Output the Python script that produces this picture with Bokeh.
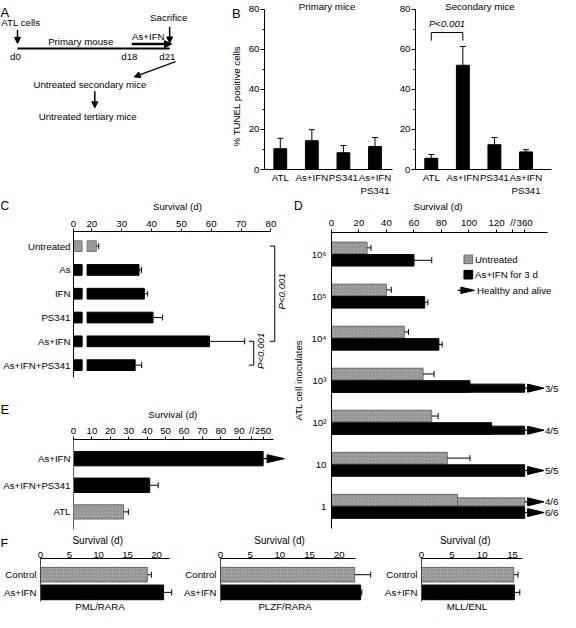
import math
from bokeh.plotting import figure
from bokeh.models import (Range1d, FixedTicker, Label, Arrow, NormalHead, Whisker,
                          TeeHead, ColumnDataSource, GridBox)
from bokeh.embed import file_html
from bokeh.resources import INLINE
from bokeh.core.properties import value

# ------------------------------------------------------------------ data
# Panel A (schematic)
a_texts = ["ATL cells", "Primary mouse", "As+IFN", "Sacrifice", "d0", "d18", "d21",
           "Untreated secondary mice", "Untreated tertiary mice"]

# Panel B: % TUNEL positive cells
b_titles = ["Primary mice", "Secondary mice"]
b_ylabel = "% TUNEL positive cells"
b_categories = ["ATL", "As+IFN", "PS341", "As+IFN\nPS341"]
b_primary = [10.4, 14.4, 8.4, 11.5]
b_primary_err = [5.2, 5.5, 3.6, 4.5]
b_secondary = [5.6, 52.1, 12.4, 8.8]
b_secondary_err = [1.9, 9.4, 3.6, 1.1]
b_yticks = [0, 20, 40, 60, 80]
b_yminor = [10, 30, 50, 70]
b_bracket = ("ATL", "As+IFN")
p_text = "P<0.001"
surv_label = "Survival (d)"

# Panel C: survival (d)
c_categories = ["Untreated", "As", "IFN", "PS341", "As+IFN", "As+IFN+PS341"]
c_survival = [21.5, 35.8, 37.6, 40.5, 59.4, 34.5]
c_err = [0.8, 0.8, 1.1, 3.2, 11.8, 2.2]
c_ticks = [0, 20, 30, 40, 50, 60, 70, 80]
c_brackets = [("Untreated", "As+IFN"), ("As+IFN", "As+IFN+PS341")]

# Panel D: survival (d) vs ATL cell inoculates
d_ylabel = "ATL cell inoculates"
d_inoculates = ["10\u2076", "10\u2075", "10\u2074", "10\u00b3", "10\u00b2", "10", "1"]
d_untreated = [25.9, 40.0, 52.9, 66.6, 72.9, 84.2, 91.7]
d_untreated_err = [2.8, 3.5, 3.1, 8.0, 4.7, 16.5, 0]
d_untreated_alive = ["", "", "", "", "", "", "4/6"]
d_treated = [60.0, 67.8, 78.1, 100.7, 116.5, 360, 360]
d_treated_err = [12.9, 2.3, 2.4, 0, 0, 0, 0]
d_treated_alive = ["", "", "", "3/5", "4/5", "5/5", "6/6"]
d_ticks = [0, 20, 40, 60, 80, 100, 120, 360]
d_alive_day = 360
d_legend = ["Untreated", "As+IFN for 3 d", "Healthy and alive"]

# Panel E
e_categories = ["As+IFN", "As+IFN+PS341", "ATL"]
e_survival = [250, 41.4, 27.2]
e_err = [0, 4.6, 2.6]
e_alive = [True, False, False]
e_ticks = [0, 10, 20, 30, 40, 50, 60, 70, 80, 90, 250]

# Panel F
f_models = ["PML/RARA", "PLZF/RARA", "MLL/ENL"]
f_categories = ["Control", "As+IFN"]
f_control = [18.4, 22.6, 15.2]
f_control_err = [0.7, 2.7, 0.7]
f_treated = [21.2, 23.6, 15.3]
f_treated_err = [1.4, 0.2, 0.9]
f_ticks = [[0, 5, 10, 15, 20], [0, 5, 10, 15, 20], [0, 5, 10, 15]]
f_axis_end = [22.2, 22.67, 16.6]

# ------------------------------------------------------------------ styling / layout
FONT = "Liberation Sans"
FS = "9.7px"
FL = "13px"
W, H_ = 560, 612
SX = W / 576
SY = H_ / 628


def PX(v):
    return int(round(v * SX))


def PY(v):
    return int(round(v * SY))


def no_align(p):
    try:
        p.frame_align = False
    except Exception:
        pass


def mklabel(x, y, text, size=FS, align="center", baseline="middle", angle=0, style="normal"):
    return Label(x=x, y=y, text=text, text_font=FONT, text_font_size=size, text_align=align,
                 text_baseline=baseline, angle=angle, text_font_style=style, text_color="black")


class TextFig:
    """axis-less figure in reference-pixel coordinates, for captions and the schematic"""

    def __init__(self, box):
        self.l, self.t, self.r, self.b = box
        l, t, r, b = box
        self.p = figure(width=PX(r) - PX(l), height=PY(b) - PY(t), x_range=Range1d(l, r),
                        y_range=Range1d(start=b, end=t), x_axis_location=None,
                        y_axis_location=None, output_backend="svg", toolbar_location=None,
                        min_border_left=0, min_border_right=0, min_border_top=0,
                        min_border_bottom=0, outline_line_color=None,
                        background_fill_color=None, border_fill_color=None)
        self.p.grid.visible = False
        no_align(self.p)

    def text(self, x, y, text, **kw):
        self.p.add_layout(mklabel(x, y, text, **kw))


class Panel:
    def __init__(self, box, frame, xr, yr, xloc="below"):
        self.l, self.t, self.r, self.b = box
        l, t, r, b = box
        self.fl, self.ft, self.fr, self.fb = frame
        self.xr, self.yr = xr, yr
        self.p = figure(width=PX(r) - PX(l), height=PY(b) - PY(t), output_backend="svg",
                        toolbar_location=None,
                        x_range=Range1d(xr[0], xr[1]), y_range=Range1d(start=yr[1], end=yr[0]),
                        min_border_left=PX(self.fl) - PX(l), min_border_right=PX(r) - PX(self.fr),
                        min_border_top=PY(self.ft) - PY(t), min_border_bottom=PY(b) - PY(self.fb),
                        outline_line_color=None, background_fill_color=None,
                        border_fill_color=None, x_axis_location=xloc, y_axis_location="left")
        self.p.grid.visible = False
        no_align(self.p)

    def X(self, px):
        return self.xr[0] + (px - self.fl) * (self.xr[1] - self.xr[0]) / (self.fr - self.fl)

    def Y(self, py):
        return self.yr[0] + (py - self.ft) * (self.yr[1] - self.yr[0]) / (self.fb - self.ft)

    def dx(self, n):
        return n * (self.xr[1] - self.xr[0]) / (self.fr - self.fl)

    def dy(self, n):
        return n * abs(self.yr[1] - self.yr[0]) / (self.fb - self.ft)

    def label(self, x, y, text, **kw):
        self.p.add_layout(mklabel(x, y, text, **kw))


def style_axis(ax, ticks, labels, tick_out=0, standoff=3, minor=None, bounds=None,
               size=FS, color="black"):
    ax.ticker = FixedTicker(ticks=list(ticks), minor_ticks=list(minor or []))
    ax.major_label_overrides = {t: l for t, l in zip(ticks, labels)}
    ax.major_tick_out = tick_out
    ax.major_tick_in = 0
    ax.minor_tick_out = 2 if minor else 0
    ax.minor_tick_in = 0
    ax.major_label_standoff = standoff
    ax.major_label_text_font = FONT
    ax.major_label_text_font_size = size
    ax.major_label_text_color = "black"
    ax.axis_line_color = color
    ax.major_tick_line_color = color
    ax.minor_tick_line_color = color
    if bounds is not None:
        ax.bounds = bounds


def whisk(p, base, lower, upper, dim):
    keep = [i for i in range(len(base)) if upper[i] > lower[i]]
    src = ColumnDataSource(dict(base=[base[i] for i in keep], lower=[lower[i] for i in keep],
                                upper=[upper[i] for i in keep]))
    p.add_layout(Whisker(source=src, base="base", lower="lower", upper="upper",
                         dimension=dim, lower_head=None,
                         upper_head=TeeHead(size=6, line_color="black", line_width=1),
                         line_color="black", line_width=1, level="glyph"))


def hatched():
    return dict(fill_color="#b4b4b4", hatch_pattern="/", hatch_color="#6a6a6a",
                hatch_scale=3.5, hatch_weight=0.7, line_color="#555555", line_width=0.8)


BLACK = dict(fill_color="black", line_color="black")


def arrowhead(panel, x_end, y, gap, length, half, line_to):
    x0 = x_end + panel.dx(gap)
    panel.p.line([x_end, x_end + panel.dx(line_to)], [y, y], color="black", line_width=1.2)
    panel.p.patch([x0, x0 + panel.dx(length), x0],
                  [y - panel.dy(half), y, y + panel.dy(half)], color="black")


# ------------------------------------------------------------------ Panel A (schematic) + B captions
A = TextFig((0, 0, 252, 203))
a_x = [21, 82.5, 152, 173, 15.3, 132.5, 171.7, 92, 89.7]
a_y = [23, 41.7, 37.3, 17, 57.3, 57.3, 57.3, 86, 119]
A.p.text(x=a_x, y=a_y, text=a_texts, text_align="center", text_baseline="middle",
         text_font=value(FONT), text_font_size=value(FS), text_color="black")
A.p.line([17.5, 174], [49.3, 49.3], line_width=2, color="black")
for (xs, ys, xe, ye, w, hs) in [(17.5, 30, 17.5, 44, 1.5, 6), (174, 27, 174, 43.5, 1.5, 6),
                               (135, 44.7, 176, 44.7, 2.5, 7), (180, 62.7, 137.5, 78.3, 1.2, 6),
                               (97, 93, 97, 110, 1.5, 6)]:
    A.p.add_layout(Arrow(end=NormalHead(size=hs, fill_color="black", line_color="black"),
                         x_start=xs, y_start=ys, x_end=xe, y_end=ye,
                         line_width=w, line_color="black"))
A.text(0, 12.5, "A", size=FL, align="left", baseline="alphabetic")
A.text(238, 13.7, "B", size=FL, align="left", baseline="alphabetic")
A.text(243, 98, b_ylabel, angle=math.pi / 2)

# ------------------------------------------------------------------ Panel B
def b_panel(box, frame, spacing, vals, errs, title, title_x):
    ppu = (175.7 - 9.3) / 80.0
    P = Panel(box, frame, (-0.5, -0.5 + (frame[2] - frame[0]) / spacing),
              (80 + (175.7 - frame[1] - 80 * ppu) / ppu, 0))
    idx = list(range(len(b_categories)))
    P.p.vbar(x=idx, top=vals, width=13.3 / spacing, **BLACK)
    whisk(P.p, idx, vals, [v + e for v, e in zip(vals, errs)], "height")
    style_axis(P.p.xaxis[0], idx, b_categories, tick_out=0, standoff=2)
    style_axis(P.p.yaxis[0], b_yticks, [str(t) for t in b_yticks], tick_out=4, standoff=1,
               minor=b_yminor, bounds=(0, 80))
    P.label(P.X(title_x), P.Y(6), title)
    return P


B1 = b_panel((252, 0, 405, 203), (270, 0, 403, 175.7), 32.8, b_primary, b_primary_err,
             b_titles[0], 335)
B2 = b_panel((405, 0, 576, 203), (426.7, 0, 566.7, 175.7), 32.5, b_secondary, b_secondary_err,
             b_titles[1], 493)
i0, i1 = b_categories.index(b_bracket[0]), b_categories.index(b_bracket[1])
by, bt = B2.Y(33.3), B2.Y(41.7)
B2.p.line([i0, i0, i1, i1], [bt, by, by, bt], color="black", line_width=1)
B2.label((i0 + i1) / 2, B2.Y(24), p_text, style="italic")

# ------------------------------------------------------------------ caption strips
S1 = TextFig((0, 203, 576, 219))
S1.text(0, 211.2, "C", size="12px", align="left", baseline="middle")
S1.text(302, 211.2, "D", size="12px", align="left", baseline="middle")
S1.text(182, 211.5, surv_label)
S1.text(450, 211.5, surv_label)

S2 = TextFig((0, 400, 300, 432))
S2.text(0, 420, "E", size=FL, align="left", baseline="middle")
S2.text(177, 425, surv_label)

DS = TextFig((300, 219, 314, 546))
DS.text(306, 390, d_ylabel, angle=math.pi / 2)

S3 = TextFig((0, 546, 576, 561))
S3.text(0, 557.8, "F", size="12.5px", align="left", baseline="alphabetic")
for x in [100, 287, 478]:
    S3.text(x, 553.5, surv_label, size="10px")

# ------------------------------------------------------------------ Panel C
C_LO, C_HI, C_HI_P = 2.9, 18.4, 4.55


def brk_c(d):
    return d if d <= C_LO else d - (C_HI - C_HI_P)


C = Panel((0, 219, 300, 400), (74, 237, 300, 400), (0, 226 / 3.08),
          (-0.615, (400 - 252) / 24.4), xloc="above")
ci = list(range(len(c_categories)))
c_fill = ["#9a9a9a"] + ["black"] * (len(ci) - 1)
c_line = ["#777777"] + ["black"] * (len(ci) - 1)
C.p.hbar(y=ci, left=0, right=C_LO, height=0.45, fill_color=c_fill, line_color=c_line)
C.p.hbar(y=ci, left=C_HI_P, right=[brk_c(v) for v in c_survival], height=0.45,
         fill_color=c_fill, line_color=c_line)
whisk(C.p, ci, [brk_c(v) for v in c_survival], [brk_c(v + e) for v, e in zip(c_survival, c_err)], "width")
style_axis(C.p.xaxis[0], [brk_c(t) for t in c_ticks], [str(t) for t in c_ticks], tick_out=3,
           standoff=2, bounds=(0, brk_c(c_ticks[-1])))
style_axis(C.p.yaxis[0], ci, c_categories, standoff=3, bounds=(-0.615, C.Y(387)))
for (a, b), bx in zip(c_brackets, [281.7, 260]):
    ia, ib = c_categories.index(a), c_categories.index(b)
    x1, x0 = C.X(bx), C.X(bx - 5)
    C.p.line([x0, x1, x1, x0], [ia, ia, ib, ib], color="black", line_width=1)
    C.label(C.X(bx + 7), (ia + ib) / 2 - 0.1, p_text, style="italic", angle=math.pi / 2)

# ------------------------------------------------------------------ Panel E
E_BRK = 96.8


def brk_e(d):
    return d if d <= 95 else 103 + (d - 250) * 0.4


E = Panel((0, 432, 300, 546), (74, 449, 300, 546), (0, 226 / 1.9),
          (-0.72, (546 - 469) / 27.75), xloc="above")
ei = list(range(len(e_categories)))
for i, (v, cat) in enumerate(zip(e_survival, e_categories)):
    sty = hatched() if cat == "ATL" else BLACK
    E.p.hbar(y=[i], left=0, right=[brk_e(v)], height=0.54, **sty)
    if e_alive[i]:
        arrowhead(E, brk_e(v), i, 4, 18, 4.2, 8)
whisk(E.p, ei, [brk_e(v) for v in e_survival], [brk_e(v + e) for v, e in zip(e_survival, e_err)], "width")
style_axis(E.p.xaxis[0], [brk_e(t) for t in e_ticks] + [E_BRK],
           [str(t) for t in e_ticks] + ["//"], tick_out=3, standoff=1, bounds=(0, E.X(280)))
style_axis(E.p.yaxis[0], ei, e_categories, standoff=3, color="#666666",
           bounds=(-0.72, E.Y(543)))

# ------------------------------------------------------------------ Panel D
D_BRK = 132


def brk_d(d):
    return d if d <= 130 else 140.5 + (d - 360) * 0.1


D = Panel((314, 219, 576, 546), (340, 233, 576, 546), (0, 236 / 1.417),
          (-0.513, (546 - 255.5) / 43.87), xloc="above")
gi = list(range(len(d_inoculates)))
OFF, H = 0.148, 0.274
HT = 0.7 * H
for sign, vals, errs, alive, sty in ((-1, d_untreated, d_untreated_err, d_untreated_alive, hatched()),
                                     (1, d_treated, d_treated_err, d_treated_alive, BLACK)):
    ys = [g + sign * OFF for g in gi]
    part = [i for i in gi if alive[i] and vals[i] < d_alive_day]
    if part:
        D.p.hbar(y=[ys[i] + (H - HT) / 2 for i in part], left=0, right=brk_d(d_alive_day),
                 height=HT, **sty)
    D.p.hbar(y=ys, left=0, right=[brk_d(v) for v in vals], height=H, **sty)
    whisk(D.p, ys, [brk_d(v) for v in vals], [brk_d(v + e) for v, e in zip(vals, errs)], "width")
    for i in gi:
        if alive[i]:
            ya = ys[i] + ((H - HT) / 2 if i in part else 0)
            arrowhead(D, brk_d(d_alive_day), ya, 3, 17, 4.2, 6)
            D.p.text(x=[D.X(560)], y=[ya], text=[alive[i]], text_align="left",
                     text_baseline="middle", text_font=value(FONT), text_font_size=value(FS),
                     text_color="black")
style_axis(D.p.xaxis[0], [brk_d(t) for t in d_ticks] + [D_BRK],
           [str(t) for t in d_ticks] + ["//"], tick_out=3, standoff=2, bounds=(0, D.X(563)))
style_axis(D.p.yaxis[0], gi, d_inoculates, standoff=5, bounds=(-0.513, D.Y(542)))
# legend
D.p.rect(x=[D.X(481)], y=[D.Y(261)], width=D.dx(9), height=D.dy(9), **hatched())
D.p.rect(x=[D.X(481)], y=[D.Y(277)], width=D.dx(9), height=D.dy(9), **BLACK)
D.p.line([D.X(470), D.X(476)], [D.Y(293.3)] * 2, color="black", line_width=1.2)
D.p.patch([D.X(473.3), D.X(487.3), D.X(473.3)],
          [D.Y(293.3) - D.dy(3.3), D.Y(293.3), D.Y(293.3) + D.dy(3.3)], color="black")
for txt, py, px in zip(d_legend, [261, 277, 293.3], [488, 488, 490]):
    D.label(D.X(px), D.Y(py), txt, align="left")

# ------------------------------------------------------------------ Panel F
F = []
f_boxes = [(0, 561, 180, 628), (180, 561, 388, 628), (388, 561, 576, 628)]
f_frames = [(37, 573, 180, 628), (226.7, 573, 388, 628), (433.3, 573, 576, 628)]
f_ppd = [6.15, 6.1, 6.23]
f_sub_x = [100, 293, 480]
for k in range(3):
    fr = f_frames[k]
    P = Panel(f_boxes[k], fr, (0, (fr[2] - fr[0]) / f_ppd[k]),
              (-0.917, (628 - 589.5) / 18), xloc="above")
    P.p.hbar(y=[0], left=0, right=[f_control[k]], height=0.83, **hatched())
    P.p.hbar(y=[1], left=0, right=[f_treated[k]], height=0.83, **BLACK)
    whisk(P.p, [0, 1], [f_control[k], f_treated[k]],
          [f_control[k] + f_control_err[k], f_treated[k] + f_treated_err[k]], "width")
    style_axis(P.p.xaxis[0], f_ticks[k], [str(t) for t in f_ticks[k]], tick_out=1, standoff=0,
               bounds=(0, f_axis_end[k]), size=FS)
    style_axis(P.p.yaxis[0], [0, 1], f_categories, standoff=4, color="#444444",
               bounds=(-0.917, P.Y(617)))
    P.label(P.X(f_sub_x[k]), P.Y(622), f_models[k])
    F.append(P)

# ------------------------------------------------------------------ absolute grid placement
items = [A, B1, B2, S1, C, S2, E, DS, D, S3] + F
xb = sorted({0, W} | {PX(o.l) for o in items} | {PX(o.r) for o in items})
yb = sorted({0, H_} | {PY(o.t) for o in items} | {PY(o.b) for o in items})
cols = [f"{b - a}px" for a, b in zip(xb, xb[1:])]
rows = [f"{b - a}px" for a, b in zip(yb, yb[1:])]
children = []
for o in items:
    r0, c0 = yb.index(PY(o.t)), xb.index(PX(o.l))
    children.append((o.p, r0, c0, yb.index(PY(o.b)) - r0, xb.index(PX(o.r)) - c0))
grid = GridBox(children=children, rows=rows, cols=cols, width=W, height=H_)

open("out.html", "w").write(file_html(grid, INLINE))
